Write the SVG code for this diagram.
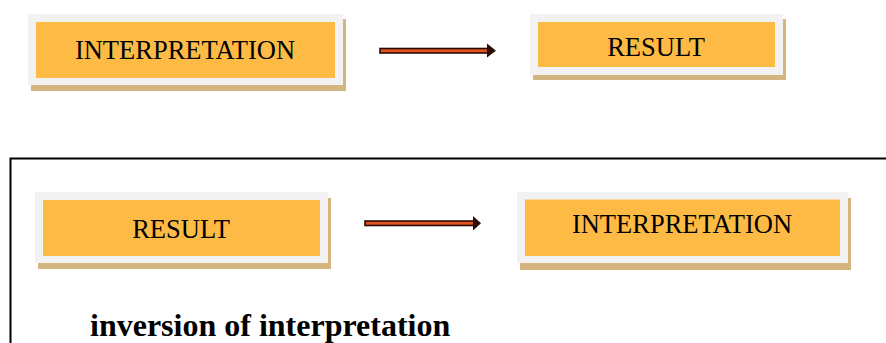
<svg xmlns="http://www.w3.org/2000/svg" width="886" height="343" viewBox="0 0 886 343">
  <defs>
    <style>
      .shadow { fill: #d5b57f; }
      .mat { fill: #f2f2f2; }
      .face { fill: #fdbb45; }
      .label { font-family: "Liberation Serif", "Times New Roman", serif; font-size: 26.5px; fill: #000; text-anchor: middle; }
      .shaft { fill: #e2521f; stroke: #2b0b02; stroke-width: 1.6; }
      .head { fill: #2b0b02; }
      .frame { fill: none; stroke: #000; stroke-width: 2; }
      .caption { font-family: "Liberation Serif", "Times New Roman", serif; font-size: 32px; font-weight: bold; fill: #000; }
    </style>
  </defs>

  <rect x="0" y="0" width="886" height="343" fill="#fff"/>

  <!-- top row -->
  <g id="node-interpretation-top">
    <rect class="shadow" x="31" y="19" width="315" height="72"/>
    <rect class="mat" x="28" y="14" width="315" height="71"/>
    <rect class="face" x="36" y="22" width="299" height="56"/>
    <text class="label" x="185" y="59">INTERPRETATION</text>
  </g>
  <g id="node-result-top">
    <rect class="shadow" x="533" y="19" width="253" height="61"/>
    <rect class="mat" x="530" y="14" width="253" height="61"/>
    <rect class="face" x="538" y="22" width="237" height="45"/>
    <text class="label" x="656" y="55.5">RESULT</text>
  </g>

  <!-- frame around the lower row -->
  <path class="frame" d="M886 158.5 H10.5 V343"/>

  <g id="node-result-bottom">
    <rect class="shadow" x="38" y="198" width="293" height="71"/>
    <rect class="mat" x="35" y="192" width="293" height="71"/>
    <rect class="face" x="43" y="200" width="277" height="56"/>
    <text class="label" x="181" y="238">RESULT</text>
  </g>
  <g id="node-interpretation-bottom">
    <rect class="shadow" x="520" y="198" width="331" height="72"/>
    <rect class="mat" x="517" y="192" width="331" height="71"/>
    <rect class="face" x="525" y="199.5" width="315" height="56.5"/>
    <text class="label" x="682" y="233">INTERPRETATION</text>
  </g>

  <g id="connectors">
    <rect class="shaft" x="380" y="48.5" width="108" height="4.5"/>
    <polygon class="head" points="487,43.5 496,50.7 487,57.5"/>
    <rect class="shaft" x="365" y="221" width="109" height="4.5"/>
    <polygon class="head" points="473,216 481,223.3 473,230.5"/>
  </g>

  <text class="caption" x="90" y="336">inversion of interpretation</text>
</svg>
